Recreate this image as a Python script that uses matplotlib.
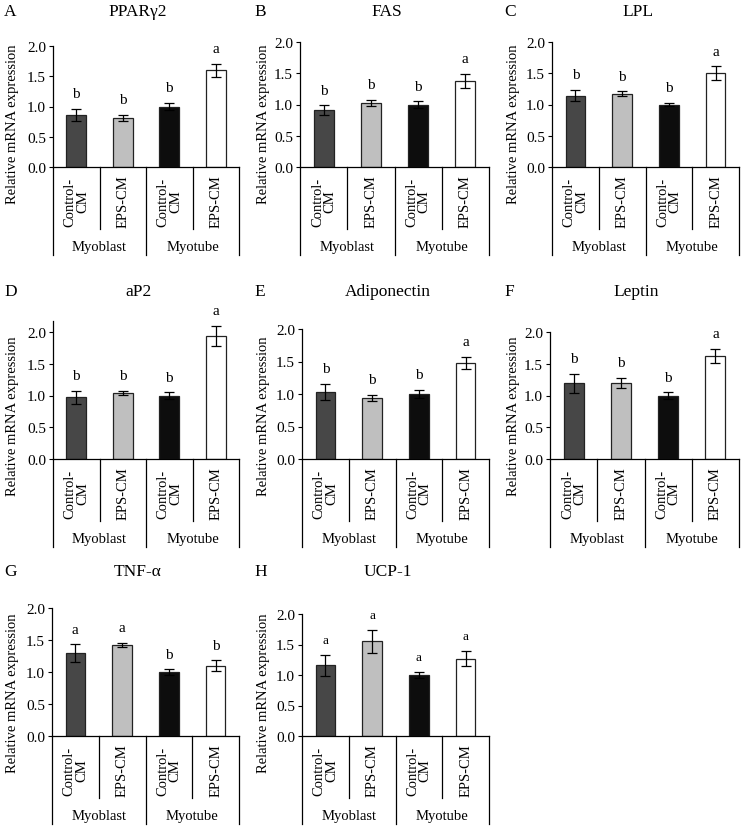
import matplotlib
matplotlib.use("Agg")
import matplotlib.pyplot as plt

plt.rcParams['font.family'] = ['Liberation Serif', 'DejaVu Serif']

W, H = 746, 828

genes = ['PPARγ2', 'FAS', 'LPL', 'aP2', 'Adiponectin', 'Leptin', 'TNF-α', 'UCP-1']
panel_ids = ['A', 'B', 'C', 'D', 'E', 'F', 'G', 'H']
conditions = ['Control-\nCM', 'EPS-CM', 'Control-\nCM', 'EPS-CM']
groups = ['Myoblast', 'Myotube']

means = [
    [0.86, 0.81, 1.00, 1.60],
    [0.91, 1.03, 1.00, 1.38],
    [1.14, 1.17, 1.00, 1.50],
    [0.97, 1.04, 1.00, 1.94],
    [1.03, 0.94, 1.00, 1.48],
    [1.19, 1.20, 1.00, 1.62],
    [1.29, 1.42, 1.00, 1.10],
    [1.16, 1.55, 1.00, 1.27],
]
errors = [
    [0.10, 0.05, 0.065, 0.11],
    [0.075, 0.05, 0.05, 0.11],
    [0.09, 0.04, 0.02, 0.11],
    [0.10, 0.03, 0.05, 0.16],
    [0.12, 0.05, 0.065, 0.09],
    [0.15, 0.08, 0.05, 0.11],
    [0.14, 0.03, 0.04, 0.08],
    [0.17, 0.19, 0.05, 0.12],
]
letters = [
    ['b', 'b', 'b', 'a'],
    ['b', 'b', 'b', 'a'],
    ['b', 'b', 'b', 'a'],
    ['b', 'b', 'b', 'a'],
    ['b', 'b', 'b', 'a'],
    ['b', 'b', 'b', 'a'],
    ['a', 'a', 'b', 'b'],
    ['a', 'a', 'a', 'a'],
]
bar_colors = ['#474747', '#bfbfbf', '#0d0d0d', '#ffffff']

# pixel boxes: left, right, y of 2.0, y of 0.0, top of axis (as y value)
boxes = [
    (53, 239, 47, 168, 2.0),
    (300, 489, 43, 168, 2.0),
    (552, 739, 43, 168, 2.0),
    (53, 239, 333, 460, 2.17),
    (302, 489, 330, 460, 2.0),
    (550, 739, 333, 460, 2.0),
    (52, 239, 609, 737, 2.0),
    (302, 489, 615, 737, 2.0),
]
row_top = [0, 0, 0, 280, 280, 280, 560, 560]
col_left = [0, 250, 500, 0, 250, 500, 0, 250]

fig = plt.figure(figsize=(W / 100, H / 100), dpi=100)

for i in range(8):
    l, r, y2, y0, ymax = boxes[i]
    px_unit = (y0 - y2) / 2.0
    top = y0 - ymax * px_unit
    ax = fig.add_axes([l / W, 1 - y0 / H, (r - l) / W, (y0 - top) / H])
    axh = y0 - top
    x = range(4)
    ax.bar(x, means[i], width=0.42, color=bar_colors, edgecolor='#222222', linewidth=0.9, zorder=2)
    ax.errorbar(x, means[i], yerr=errors[i], fmt='none', ecolor='black', elinewidth=0.9,
                capsize=3.5, capthick=0.9, zorder=3)
    ax.set_xlim(-0.5, 3.5)
    ax.set_ylim(0, ymax)
    ax.set_yticks([0, 0.5, 1.0, 1.5, 2.0])
    ax.set_yticklabels(['0.0', '0.5', '1.0', '1.5', '2.0'])
    ax.tick_params(axis='y', labelsize=11, length=3, width=0.8, direction='out', pad=2)
    ax.set_xticks([])
    for s in ['top', 'right']:
        ax.spines[s].set_visible(False)
    ax.spines['left'].set_linewidth(0.9)
    ax.spines['bottom'].set_linewidth(0.9)

    lsize = 9.5 if i == 7 else 11
    for j in range(4):
        ax.annotate(letters[i][j], (j, means[i][j] + errors[i][j]), xytext=(0, 11),
                    textcoords='offset points', ha='center', va='center', fontsize=lsize,
                    annotation_clip=False)

    # category table below the axis
    tr = ax.get_xaxis_transform()
    inner = -62 / axh
    outer = -88 / axh
    for xb in [-0.5, 1.5, 3.5]:
        ax.plot([xb, xb], [0, outer], transform=tr, color='black', lw=0.9, clip_on=False)
    for xb in [0.5, 2.5]:
        ax.plot([xb, xb], [0, inner], transform=tr, color='black', lw=0.9, clip_on=False)
    for j in range(4):
        ax.text(j, -34 / axh, conditions[j], transform=tr, rotation=90, ha='center', va='center',
                fontsize=10.5, linespacing=0.95)
    for g in range(2):
        ax.text(0.5 + 2 * g, -80 / axh, groups[g], transform=tr, ha='center', va='center', fontsize=10.5)

    # title, panel letter, y label
    fig.text(((l + r) / 2 - 8) / W, 1 - (row_top[i] + 12) / H, genes[i], ha='center', va='center', fontsize=12.5)
    fig.text((col_left[i] + 4) / W, 1 - (row_top[i] + 12) / H, panel_ids[i], ha='left', va='center', fontsize=12.5)
    fig.text((col_left[i] + 13) / W, 1 - (y0 - 44) / H, 'Relative mRNA expression',
             rotation=90, ha='center', va='center', fontsize=10.5)

fig.savefig('out.png', dpi=100)
